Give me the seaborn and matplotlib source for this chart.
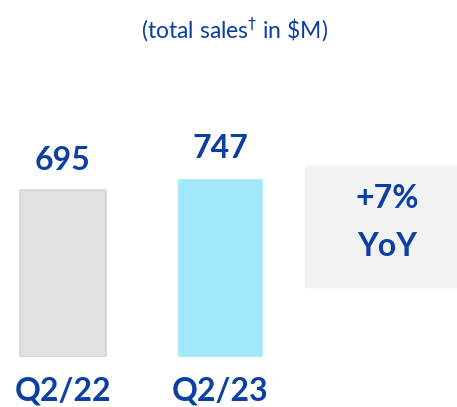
import numpy as np
import pandas as pd
import seaborn as sns
import matplotlib.pyplot as plt

# data
quarters = ['Q2/22', 'Q2/23']
sales = [695, 747]
yoy_label = '+7%\nYoY'
bar_colors = ['#e1e1e1', '#a2e8fc']
blue = '#0b3fa3'

sns.set_style('white')
plt.rcParams['font.family'] = ['Lato', 'DejaVu Sans']

fig = plt.figure(figsize=(4.57, 4.07), dpi=100)
# axes covering the bar area (baseline at 50px from bottom)
ax = fig.add_axes([0, 50 / 407, 1, 357 / 407])

df = pd.DataFrame({'quarter': quarters, 'sales': sales})
sns.barplot(data=df, x='quarter', y='sales', hue='quarter', palette=bar_colors,
            width=0.55, saturation=1, legend=False, ax=ax)
ax.patches[0].set_edgecolor('#d6d6d6')
ax.patches[0].set_linewidth(1.2)

ax.set_xlim(-0.401, 2.51)
ax.set_ylim(0, 1487)
ax.axis('off')

# value labels
for i, v in enumerate(sales):
    ax.text(i, v + 122, str(v), ha='center', va='center', fontsize=23,
            fontweight='bold', color=blue)
# category labels
for i, q in enumerate(quarters):
    ax.text(i, -140, q, ha='center', va='center', fontsize=23,
            fontweight='bold', color=blue, clip_on=False)

# YoY box
fig.patches.append(plt.Rectangle((305 / 457, 1 - 287 / 407), 152 / 457, 121 / 407,
                                 transform=fig.transFigure, color='#f2f2f2', zorder=0))
fig.text(387 / 457, 1 - 199 / 407, '+7%', ha='center', va='center', fontsize=23,
         fontweight='bold', color=blue)
fig.text(387 / 457, 1 - 247 / 407, 'YoY', ha='center', va='center', fontsize=23,
         fontweight='bold', color=blue)

# subtitle
fig.text(235 / 457, 1 - 30 / 407, '(total sales$^{\\dagger}$ in \\$M)', ha='center', va='center',
         fontsize=16.5, color=blue)

fig.savefig('out.png', dpi=100)
